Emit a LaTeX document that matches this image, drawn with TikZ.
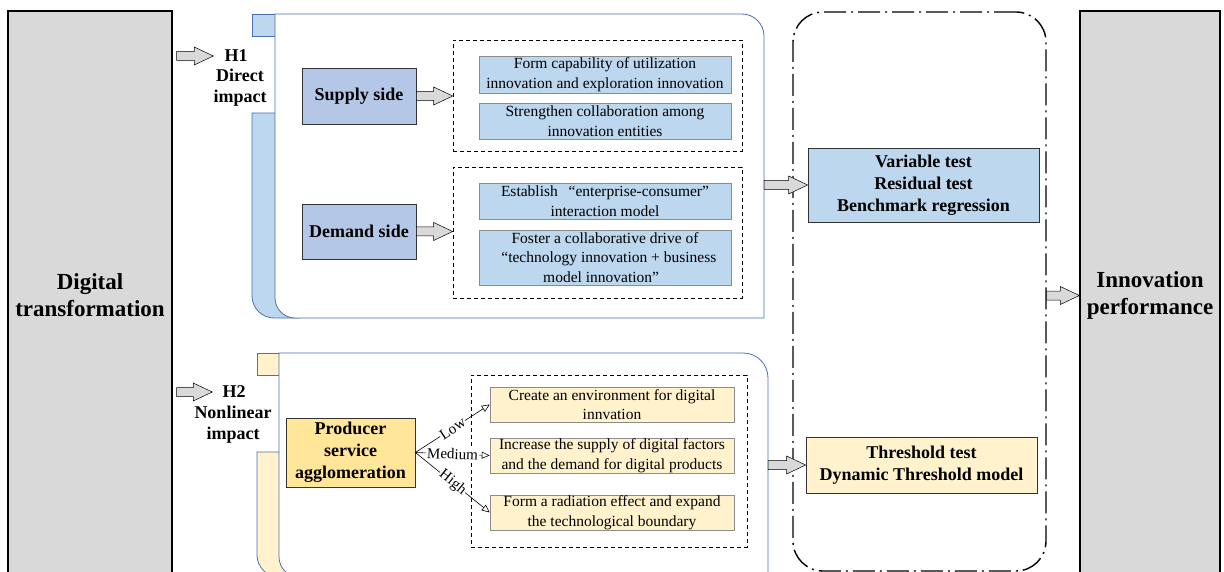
\documentclass[tikz,border=0pt]{standalone}
\usepackage{fontspec}
\setmainfont{Liberation Serif}
\usetikzlibrary{arrows.meta,calc}
\definecolor{bggray}{HTML}{D9D9D9}
\definecolor{sdblue}{HTML}{B4C7E7}
\definecolor{lblue}{HTML}{BDD7EE}
\definecolor{gold}{HTML}{FFE699}
\definecolor{lyellow}{HTML}{FFF2CC}
\definecolor{pblue}{HTML}{4A6FB5}
\definecolor{bordgray}{HTML}{8C8C8C}
\begin{document}
\begin{tikzpicture}[x=1pt,y=-1pt,
 bigbox/.style={draw=black, line width=1.3pt, fill=bggray, font=\fontsize{23}{27}\selectfont\bfseries, align=center, inner sep=0},
 sidebox/.style={draw=black!80, line width=0.7pt, align=center, font=\fontsize{18}{22}\selectfont\bfseries, inner sep=0},
 itembox/.style={draw=bordgray, line width=0.5pt, fill=lblue, align=center, font=\fontsize{15.5}{19.5}\selectfont, inner sep=0, minimum width=252pt},
 yitembox/.style={itembox, fill=lyellow, minimum width=244pt},
 dashbox/.style={draw=black, dash pattern=on 4pt off 3pt, line width=0.6pt, inner sep=0},
 lab/.style={font=\fontsize{18}{21}\selectfont\bfseries, align=center, inner sep=0},
 pfrm/.style={draw=pblue, line width=0.8pt},
 blockarrow/.style={draw=black, line width=0.5pt, fill=bggray, to path={let \p1=(\tikztostart), \p2=(\tikztotarget) in
   (\x1,{\y1+4.5pt}) -- ({\x2-19pt},{\y1+4.5pt}) -- ({\x2-19pt},{\y1+9pt}) -- (\x2,\y1) -- ({\x2-19pt},{\y1-9pt}) -- ({\x2-19pt},{\y1-4.5pt}) -- (\x1,{\y1-4.5pt}) -- cycle}},
 tri/.style={-{Triangle[open,length=8pt,width=7pt]}, line width=0.6pt},
 lvl/.style={pos=0.5, sloped, fill=white, inner sep=1pt, font=\fontsize{15}{17}\selectfont}
]
\path[use as bounding box] (0,0) rectangle (1224,572);
\clip (0,0) rectangle (1224,572);

% side boxes
\node[bigbox, minimum width=164pt, minimum height=569pt] (dt) at (90,295.5) {Digital\\transformation};
\node[bigbox, minimum width=140pt, minimum height=569pt] (ip) at (1150,295.5) {Innovation\\performance};

% H1 panel
\draw[pfrm, fill=lblue] (252,113) -- (300,113) -- (300,318) -- (274,318) .. controls (262,318) and (252,308) .. (252,296) -- cycle;
\draw[pfrm, fill=lblue] (252,14) rectangle (275,36);
\draw[pfrm, fill=white] (275,14) -- (742,14) .. controls (754,14) and (764,24) .. (764,36) -- (764,318) -- (295,318) .. controls (284,318) and (275,309) .. (275,298) -- cycle;
\node[minimum width=489pt, minimum height=304pt, inner sep=0] (p1) at (519.5,166) {};

% H2 panel
\draw[pfrm, fill=lyellow] (257,452) -- (300,452) -- (300,577) -- (279,577) .. controls (267,577) and (257,567) .. (257,555) -- cycle;
\draw[pfrm, fill=lyellow] (257,353) rectangle (279,375);
\draw[pfrm, fill=white] (279,353) -- (743,353) .. controls (757,353) and (768,364) .. (768,378) -- (768,577) -- (299,577) .. controls (288,577) and (279,568) .. (279,557) -- cycle;
\node[minimum width=489pt, minimum height=224pt, inner sep=0] (p2) at (523.5,465) {};

% H labels
\node[lab] (h1) at (236,56) {H1};
\node[lab] (h1d) at (240,88) {Direct\\impact};
\node[lab] (h2) at (234,392) {H2};
\node[lab] (h2d) at (233,425) {Nonlinear\\impact};

% direct impact contents
\node[sidebox, fill=sdblue, minimum width=114pt, minimum height=56pt] (sup) at (359,96) {Supply side};
\node[sidebox, fill=sdblue, minimum width=114pt, minimum height=55pt] (dem) at (359,231.5) {Demand side};
\node[dashbox, minimum width=289pt, minimum height=111pt] (d1) at (597.5,95.5) {};
\node[dashbox, minimum width=289pt, minimum height=131pt] (d2) at (597.5,232.5) {};
\node[itembox, minimum height=37pt] (ia) at (605,74.5) {Form capability of utilization\\innovation and exploration innovation};
\node[itembox, minimum height=36pt] (ib) at (605,121) {Strengthen collaboration among\\innovation entities};
\node[itembox, minimum height=36pt] (ic) at (605,201) {Establish\hspace{0.7em}“enterprise-consumer”\\interaction model};
\node[itembox, minimum height=55pt] (id) at (605,257.5) {Foster a collaborative drive of\\\hspace*{0.5em}“technology innovation + business\\model innovation”\hspace*{0.5em}};

% nonlinear contents
\node[sidebox, fill=gold, minimum width=129pt, minimum height=69pt] (prod) at (350.5,452.5) {Producer\\service\\agglomeration};
\node[dashbox, minimum width=276pt, minimum height=172pt] (d3) at (609,461) {};
\node[yitembox, minimum height=35pt] (ie) at (612,404.5) {Create an environment for digital\\innvation};
\node[yitembox, minimum height=35pt] (if) at (612,455.5) {Increase the supply of digital factors\\and the demand for digital products};
\node[yitembox, minimum height=35pt] (ig) at (612,512.5) {Form a radiation effect and expand\\the technological boundary};

% test column
\node[draw=black, line width=1.4pt, dash pattern=on 22pt off 5pt on 2pt off 5pt, rounded corners=30pt, minimum width=253pt, minimum height=559pt, inner sep=0] (dd) at (919.5,291.5) {};
\node[sidebox, fill=lblue, minimum width=231pt, minimum height=74pt] (var) at (923.5,185) {Variable test\\Residual test\\Benchmark regression};
\node[sidebox, fill=lyellow, minimum width=231pt, minimum height=56pt] (thr) at (921.5,465) {Threshold test\\Dynamic Threshold model};

% connectors
\draw[blockarrow] ($(dt.east |- h1.west)+(4,0)$) to ($(h1.west)+(-11,0)$);
\draw[blockarrow] ($(dt.east |- h2.west)+(4,0)$) to ($(h2.west)+(-10,0)$);
\draw[blockarrow] (sup.east) to (d1.west |- sup.east);
\draw[blockarrow] (dem.east) to (d2.west |- dem.east);
\draw[blockarrow] (p1.east |- var.west) to (var.west);
\draw[blockarrow] (p2.east |- thr.west) to (thr.west);
\draw[blockarrow] (dd.east |- ip.west) to (ip.west);

\draw[tri] (prod.east) -- node[lvl]{Low} (ie.west);
\draw[tri] (prod.east) -- node[lvl]{Medium} (if.west);
\draw[tri] (prod.east) -- node[lvl]{High} (ig.west);
\end{tikzpicture}
\end{document}
